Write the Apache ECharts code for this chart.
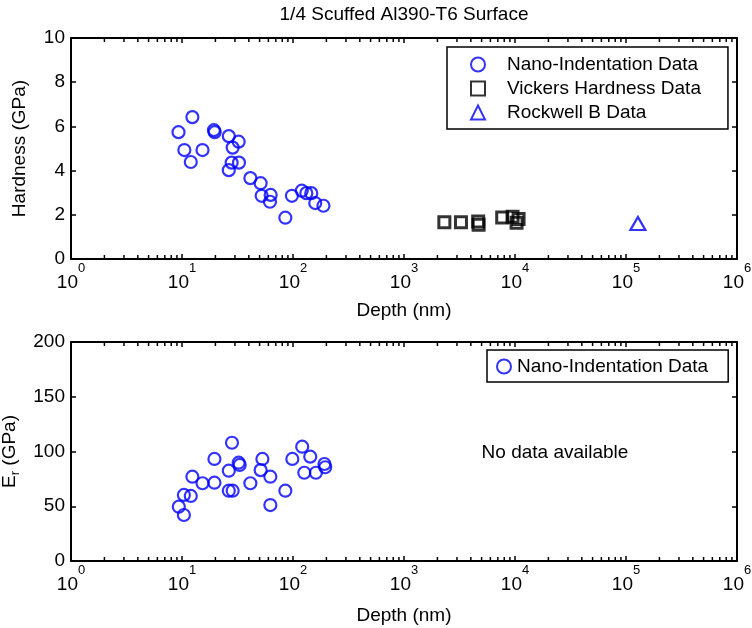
<!DOCTYPE html>
<html>
<head>
<meta charset="utf-8">
<title>1/4 Scuffed Al390-T6 Surface</title>
<script src="https://cdn.jsdelivr.net/npm/echarts@6/dist/echarts.min.js"></script>
<style>
  html, body { margin: 0; padding: 0; background: #fff; }
  #chart { width: 752px; height: 628px; }
</style>
</head>
<body>
<div id="chart"></div>
<script>
// Nano-indentation hardness: depth (nm) and hardness (GPa)
const nanoDepthH = [9.3, 12.4, 10.5, 12.0, 15.3, 19.4, 19.7, 26.4, 32.4, 28.6, 28.0, 32.6, 26.4,
  41.3, 51.1, 52.2, 62.9, 62.0, 85.3, 97.8, 120, 131.8, 146, 158.6, 188];
const nanoHardness = [5.74, 6.42, 4.93, 4.39, 4.93, 5.83, 5.74, 5.56, 5.31, 5.04, 4.36, 4.36, 4.02,
  3.66, 3.43, 2.86, 2.90, 2.59, 1.87, 2.86, 3.09, 2.98, 2.98, 2.53, 2.41];

// Vickers hardness: depth (nm) and hardness (GPa)
const vickersDepth = [2310, 3260, 4660, 4700, 7670, 9500, 10770, 10330];
const vickersHardness = [1.66, 1.66, 1.70, 1.55, 1.88, 1.91, 1.81, 1.64];

// Rockwell B: depth (nm) and hardness (GPa)
const rockwellDepth = [128000];
const rockwellHardness = [1.61];

// Nano-indentation reduced modulus: depth (nm) and Er (GPa)
const nanoDepthE = [9.36, 10.4, 10.4, 12.0, 12.4, 15.3, 19.6, 19.6, 26.4, 28.2, 26.4, 28.6, 32.4, 33.1,
  41.3, 51.1, 53.0, 62.5, 62.5, 85.3, 98.6, 121, 126.4, 143, 160.8, 192, 195];
const nanoModulus = [49.6, 42, 60.3, 59.4, 77, 71, 93.2, 71.5, 82.5, 108, 64.2, 64.2, 89.8, 87.7,
  71, 83, 93.2, 77, 51.1, 64.2, 93.2, 104.4, 80.6, 95.3, 80.6, 88.6, 85.6];

// Axis ranges and tick settings
const depthRange = [1, 1e6];
const hardnessRange = [0, 10];
const hardnessStep = 2;
const modulusRange = [0, 200];
const modulusStep = 50;

const NANO = 'Nano-Indentation Data';
const VICKERS = 'Vickers Hardness Data';
const ROCKWELL = 'Rockwell B Data';

const FONT = 'Liberation Sans, Arial, Helvetica, sans-serif';
const FS = 19;
const BLUE = '#0000ff';

// minor tick positions (2..9 x 10^k) for the log depth axes
const minorTicks = [];
for (let k = 0; k < 6; k++) {
  for (let m = 2; m <= 9; m++) minorTicks.push([m * Math.pow(10, k), 0]);
}

const grids = [
  { left: 71, top: 38, width: 666, height: 221 },
  { left: 71, top: 342, width: 666, height: 219 }
];

function logAxis(gridIndex, position, showLabels, nameGap) {
  return {
    type: 'log', logBase: 10, gridIndex, position,
    min: depthRange[0], max: depthRange[1], splitNumber: 6,
    name: showLabels ? 'Depth (nm)' : '',
    nameLocation: 'middle', nameGap,
    nameTextStyle: { fontSize: FS, fontFamily: FONT, color: '#000' },
    axisLine: { show: true, onZero: false, lineStyle: { color: '#000', width: 2 } },
    axisTick: { show: true, inside: true, length: 5, lineStyle: { color: '#000', width: 1.5 } },
    splitLine: { show: false },
    minorTick: { show: false },
    axisLabel: {
      show: showLabels, margin: 3, color: '#000',
      formatter: v => '{b|10}{e|' + Math.round(Math.log10(v)) + '}',
      rich: {
        b: { fontSize: FS, fontFamily: FONT, color: '#000', verticalAlign: 'bottom', lineHeight: 30 },
        e: { fontSize: 13, fontFamily: FONT, color: '#000', verticalAlign: 'top', lineHeight: 30 }
      }
    }
  };
}

function valAxis(gridIndex, position, range, step, name, showLabels) {
  return {
    type: 'value', gridIndex, position,
    min: range[0], max: range[1], interval: step,
    name: name, nameLocation: 'middle', nameGap: 42,
    nameTextStyle: {
      fontSize: FS, fontFamily: FONT, color: '#000',
      rich: {
        a: { fontSize: FS, fontFamily: FONT, color: '#000' },
        s: { fontSize: 13, fontFamily: FONT, color: '#000', verticalAlign: 'bottom', lineHeight: 26 }
      }
    },
    axisLine: { show: true, onZero: false, lineStyle: { color: '#000', width: 2 } },
    axisTick: { show: true, inside: true, length: 5, lineStyle: { color: '#000', width: 1.5 } },
    splitLine: { show: false },
    axisLabel: {
      show: showLabels, margin: 6, color: '#000', fontSize: FS, fontFamily: FONT
    }
  };
}

function minorTickSeries(xIdx, yIdx) {
  return {
    type: 'custom', xAxisIndex: xIdx, yAxisIndex: yIdx, silent: true, z: 1,
    data: minorTicks,
    renderItem(params, api) {
      const x = api.coord([api.value(0), api.value(1)])[0];
      const cs = params.coordSys;
      const yb = cs.y + cs.height, yt = cs.y;
      const st = { stroke: '#000', lineWidth: 1.5 };
      return {
        type: 'group',
        children: [
          { type: 'line', shape: { x1: x, y1: yb, x2: x, y2: yb - 4 }, style: st },
          { type: 'line', shape: { x1: x, y1: yt, x2: x, y2: yt + 4 }, style: st }
        ]
      };
    }
  };
}

const pair = (xs, ys) => xs.map((x, i) => [x, ys[i]]);

const circleStyle = { color: 'rgba(0,0,0,0)', borderColor: BLUE, borderWidth: 2.2 };

const option = {
  animation: false,
  backgroundColor: '#fff',
  grid: grids.map(g => Object.assign({ containLabel: false, outerBoundsMode: 'none' }, g)),
  xAxis: [
    logAxis(0, 'bottom', true, 42),
    logAxis(0, 'top', false, 0),
    logAxis(1, 'bottom', true, 45),
    logAxis(1, 'top', false, 0)
  ],
  yAxis: [
    valAxis(0, 'left', hardnessRange, hardnessStep, 'Hardness (GPa)', true),
    valAxis(0, 'right', hardnessRange, hardnessStep, '', false),
    valAxis(1, 'left', modulusRange, modulusStep, '{a|E}{s|r}{a| (GPa)}', true),
    valAxis(1, 'right', modulusRange, modulusStep, '', false)
  ],
  legend: [
    {
      data: [NANO, VICKERS, ROCKWELL],
      orient: 'vertical', left: 447, top: 47,
      padding: [8, 27, 7, 23], itemGap: 5,
      itemWidth: 14, itemHeight: 14,
      borderColor: '#000', borderWidth: 1.5, backgroundColor: '#fff',
      textStyle: { fontSize: FS, fontFamily: FONT, color: '#000', padding: [0, 0, 0, 17], lineHeight: 19 },
      selectedMode: false
    },
    {
      data: [NANO],
      orient: 'vertical', left: 487, top: 350,
      padding: [7, 20, 6, 9], itemGap: 5,
      itemWidth: 14, itemHeight: 14,
      borderColor: '#000', borderWidth: 1.5, backgroundColor: '#fff',
      textStyle: { fontSize: FS, fontFamily: FONT, color: '#000', padding: [0, 0, 0, 1], lineHeight: 19 },
      selectedMode: false
    }
  ],
  graphic: [
    {
      type: 'text', x: 404, y: 15,
      style: { text: '1/4 Scuffed Al390-T6 Surface', font: FS + 'px ' + FONT, fill: '#000', align: 'center', verticalAlign: 'middle' }
    },
    {
      type: 'text', x: 555, y: 453,
      style: { text: 'No data available', font: FS + 'px ' + FONT, fill: '#000', align: 'center', verticalAlign: 'middle' }
    }
  ],
  series: [
    minorTickSeries(0, 0),
    minorTickSeries(2, 2),
    {
      name: NANO, type: 'scatter', xAxisIndex: 0, yAxisIndex: 0, z: 3,
      symbol: 'circle', symbolSize: 12, itemStyle: circleStyle,
      data: pair(nanoDepthH, nanoHardness)
    },
    {
      name: VICKERS, type: 'scatter', xAxisIndex: 0, yAxisIndex: 0, z: 3,
      symbol: 'rect', symbolSize: 11,
      itemStyle: { color: 'rgba(0,0,0,0)', borderColor: '#000', borderWidth: 3 },
      data: pair(vickersDepth, vickersHardness)
    },
    {
      name: ROCKWELL, type: 'scatter', xAxisIndex: 0, yAxisIndex: 0, z: 3,
      symbol: 'triangle', symbolSize: [15, 13],
      itemStyle: { color: 'rgba(0,0,0,0)', borderColor: BLUE, borderWidth: 2.2 },
      data: pair(rockwellDepth, rockwellHardness)
    },
    {
      name: NANO, type: 'scatter', xAxisIndex: 2, yAxisIndex: 2, z: 3,
      symbol: 'circle', symbolSize: 12, itemStyle: circleStyle,
      data: pair(nanoDepthE, nanoModulus)
    }
  ]
};

const chart = echarts.init(document.getElementById('chart'), null, { renderer: 'canvas' });
chart.setOption(option);
</script>
</body>
</html>
